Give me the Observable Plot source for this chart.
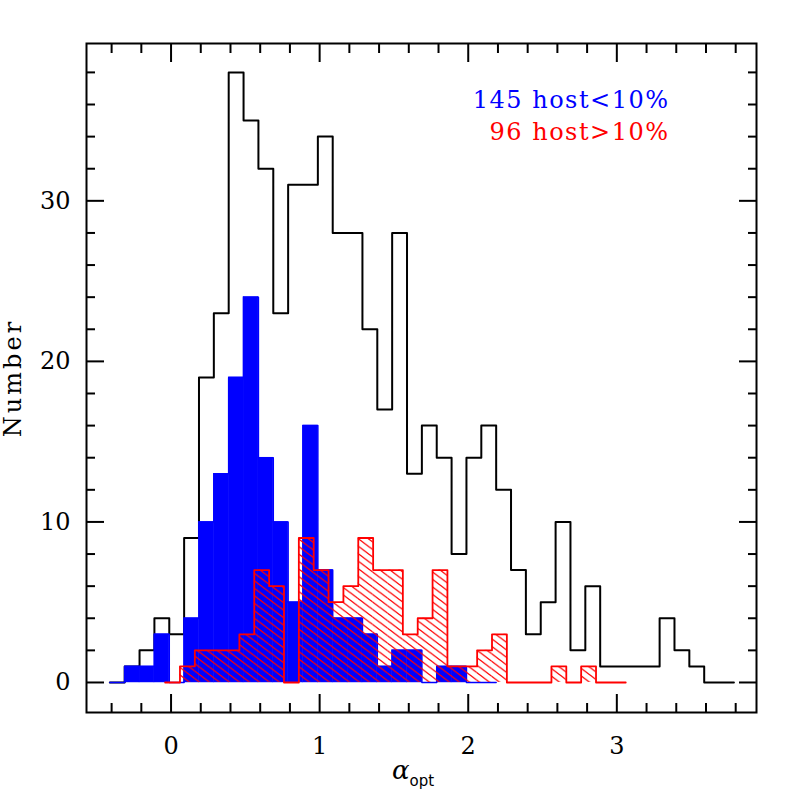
<!DOCTYPE html>
<html>
<head>
<meta charset="utf-8">
<script src="https://cdn.jsdelivr.net/npm/d3@7"></script>
<script src="https://cdn.jsdelivr.net/npm/@observablehq/plot@0.6"></script>
<style>
  html, body { margin: 0; padding: 0; background: #fff; }
</style>
</head>
<body>
<div id="chart"></div>
<script>
// ---- data ----
const binWidth = 0.1;

// full sample (black outline)
const totalStart = -0.412;
const totalCounts = [0,1,2,4,3,9,19,23,38,35,32,23,31,31,34,28,28,22,17,28,13,16,14,8,14,16,12,7,3,5,10,2,6,1,1,1,1,4,2,1,0,0];

// host < 10% (blue filled)
const lowHostStart = -0.412;
const lowHostCounts = [0,1,1,3,0,4,10,13,19,24,14,10,5,16,7,4,4,3,1,2,2,0,1,1,0,0];

// host > 10% (red hatched)
const highHostStart = -0.04;
const highHostCounts = [0,1,2,2,2,3,7,6,0,9,7,5,6,9,7,7,3,4,7,1,1,2,3,0,0,0,1,0,1,0,0];

const legendLabels = ["145 host<10%", "96 host>10%"];
const xMajorTicks = [0, 1, 2, 3];
const xMinorTicks = [-0.4, -0.2, 0.2, 0.4, 0.6, 0.8, 1.2, 1.4, 1.6, 1.8, 2.2, 2.4, 2.6, 2.8, 3.2, 3.4, 3.6, 3.8];
const yMajorTicks = [0, 10, 20, 30];
const yMinorTicks = [2, 4, 6, 8, 12, 14, 16, 18, 22, 24, 26, 28, 32, 34, 36, 38];
const yLabel = "Number";

// ---- helpers ----
const bins = (start, counts) => counts.map((c, i) => ({x1: start + i * binWidth, x2: start + (i + 1) * binWidth, y: c}));
const steps = (start, counts) => counts.map((c, i) => ({x: start + i * binWidth, y: c}))
  .concat([{x: start + counts.length * binWidth, y: counts[counts.length - 1]}]);

const serif = "'DejaVu Serif', 'Liberation Serif', serif";

const plot = Plot.plot({
  width: 797,
  height: 797,
  marginLeft: 86,
  marginRight: 41,
  marginTop: 43,
  marginBottom: 85,
  style: {fontFamily: serif, fontSize: "24px", background: "#fff", color: "#000"},
  x: {domain: [-0.569, 3.94]},
  y: {domain: [-1.87, 39.8]},
  marks: [
    // total sample outline
    Plot.line(steps(totalStart, totalCounts), {x: "x", y: "y", curve: "step-after", stroke: "#000", strokeWidth: 2}),
    // host < 10% filled
    Plot.rectY(bins(lowHostStart, lowHostCounts), {x1: "x1", x2: "x2", y1: 0, y2: "y", fill: "#0000ff", stroke: "#0000ff", strokeWidth: 0.5}),
    Plot.line(steps(lowHostStart, lowHostCounts), {x: "x", y: "y", curve: "step-after", stroke: "#0000ff", strokeWidth: 1.5}),
    // host > 10% hatched
    Plot.rectY(bins(highHostStart, highHostCounts), {x1: "x1", x2: "x2", y1: 0, y2: "y", fill: "url(#hatch)"}),
    Plot.line(steps(highHostStart, highHostCounts), {x: "x", y: "y", curve: "step-after", stroke: "#ff0000", strokeWidth: 1.8}),
    // frame
    Plot.frame({stroke: "#000", strokeWidth: 2}),
    // inward ticks, four sides
    Plot.axisX({ticks: xMinorTicks, anchor: "bottom", tickSize: -9, strokeWidth: 2, tickFormat: () => "", label: null}),
    Plot.axisX({ticks: xMinorTicks, anchor: "top", tickSize: -9, strokeWidth: 2, tickFormat: () => "", label: null}),
    Plot.axisX({ticks: xMajorTicks, anchor: "top", tickSize: -18, strokeWidth: 2, tickFormat: () => "", label: null}),
    Plot.axisX({ticks: xMajorTicks, anchor: "bottom", tickSize: -18, strokeWidth: 2, tickFormat: () => "", label: null}),
    Plot.axisX({ticks: xMajorTicks, anchor: "bottom", tickSize: 0, tickPadding: 24, tickFormat: d => String(d), label: null, fontSize: 24}),
    Plot.axisY({ticks: yMinorTicks, anchor: "left", tickSize: -9, strokeWidth: 2, tickFormat: () => "", label: null}),
    Plot.axisY({ticks: yMinorTicks, anchor: "right", tickSize: -9, strokeWidth: 2, tickFormat: () => "", label: null}),
    Plot.axisY({ticks: yMajorTicks, anchor: "right", tickSize: -18, strokeWidth: 2, tickFormat: () => "", label: null}),
    Plot.axisY({ticks: yMajorTicks, anchor: "left", tickSize: -18, strokeWidth: 2, tickFormat: () => "", label: null}),
    Plot.axisY({ticks: yMajorTicks, anchor: "left", tickSize: 0, tickPadding: 16, tickFormat: d => String(d), label: null, fontSize: 24}),
    // legend texts
    Plot.text([legendLabels[0]], {frameAnchor: "top-right", text: d => d, textAnchor: "end", dx: -87, dy: 47, fill: "#0000ff", fontSize: 24}),
    Plot.text([legendLabels[1]], {frameAnchor: "top-right", text: d => d, textAnchor: "end", dx: -87, dy: 79, fill: "#ff0000", fontSize: 24}),
    // y label
    Plot.text([yLabel], {frameAnchor: "left", text: d => d, textAnchor: "middle", rotate: -90, dx: -73, fontSize: 24})
  ]
});

// hatch pattern
const svg = d3.select(plot);
svg.insert("defs", ":first-child").html(
  '<pattern id="hatch" patternUnits="userSpaceOnUse" width="10" height="7.5">' +
  '<path d="M-2,-1.5 L12,9 M-12,-1.5 L2,9 M8,-1.5 L22,9" stroke="#ff0000" stroke-width="1.3" fill="none"/>' +
  '</pattern>'
);

// letter spacing for the wide PGPLOT-like font
svg.selectAll("text").filter(function() { return /host/.test(this.textContent); }).attr("letter-spacing", "1.5px");
svg.selectAll("text").filter(function() { return this.textContent === yLabel; }).attr("letter-spacing", "3px");

// x-axis label with subscript
const xl = svg.append("text")
  .attr("x", 413).attr("y", 779)
  .attr("text-anchor", "middle")
  .attr("font-family", serif)
  .attr("fill", "#000");
xl.append("tspan").attr("font-style", "italic").attr("font-size", 26).text("α");
xl.append("tspan").attr("font-family", "'DejaVu Sans', sans-serif").attr("font-size", 15).attr("dy", 7).text("opt");

document.getElementById("chart").appendChild(plot);
</script>
</body>
</html>
